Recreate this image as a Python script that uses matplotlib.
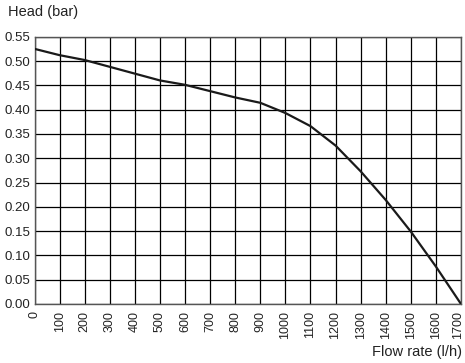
import matplotlib
matplotlib.use('Agg')
import matplotlib.pyplot as plt
from matplotlib.transforms import ScaledTranslation

# Pump curve: head vs flow rate
flow = [0, 100, 200, 300, 400, 500, 600, 700, 800, 900, 1000, 1100, 1200, 1300, 1400, 1500, 1600, 1700]
head = [0.525, 0.512, 0.502, 0.488, 0.474, 0.460, 0.451, 0.438, 0.425, 0.414, 0.393, 0.366, 0.326, 0.273, 0.214, 0.149, 0.077, 0.0]

x_ticks = list(range(0, 1800, 100))
y_ticks = [0.00, 0.05, 0.10, 0.15, 0.20, 0.25, 0.30, 0.35, 0.40, 0.45, 0.50, 0.55]

plt.rcParams['font.family'] = ['Liberation Sans', 'DejaVu Sans']

fig = plt.figure(figsize=(4.65, 3.63), dpi=100)
ax = fig.add_axes([34.5 / 465, 1 - 304 / 363, (461 - 34.5) / 465, (304 - 36.7) / 363])

ax.plot(flow, head, color='#1a1a1a', lw=1.6, zorder=3)

ax.set_xlim(0, 1700)
ax.set_ylim(0, 0.55)
ax.set_xticks(x_ticks)
ax.set_xticklabels([str(v) for v in x_ticks], rotation=90, fontsize=9)
ax.set_yticks(y_ticks)
ax.set_yticklabels(['%.2f' % v for v in y_ticks], fontsize=9.5)
ax.tick_params(axis='x', length=0, pad=5, colors='#222222')
ax.tick_params(axis='y', length=0, pad=3, colors='#222222')
ax.grid(True, color='black', lw=0.9)
for s in ax.spines.values():
    s.set_color('#555555')
    s.set_linewidth(1.0)

# nudge the last label so it stays inside the figure
last = ax.get_xticklabels()[-1]
last.set_transform(last.get_transform() + ScaledTranslation(-3 / 100, 0, fig.dpi_scale_trans))

fig.text(8 / 465, 1 - 12 / 363, 'Head (bar)', fontsize=10.5, va='center', ha='left', color='#222222')
fig.text(462 / 465, 1 - 352 / 363, 'Flow rate (l/h)', fontsize=10.5, va='center', ha='right', color='#222222')

fig.savefig('out.png', dpi=100)
